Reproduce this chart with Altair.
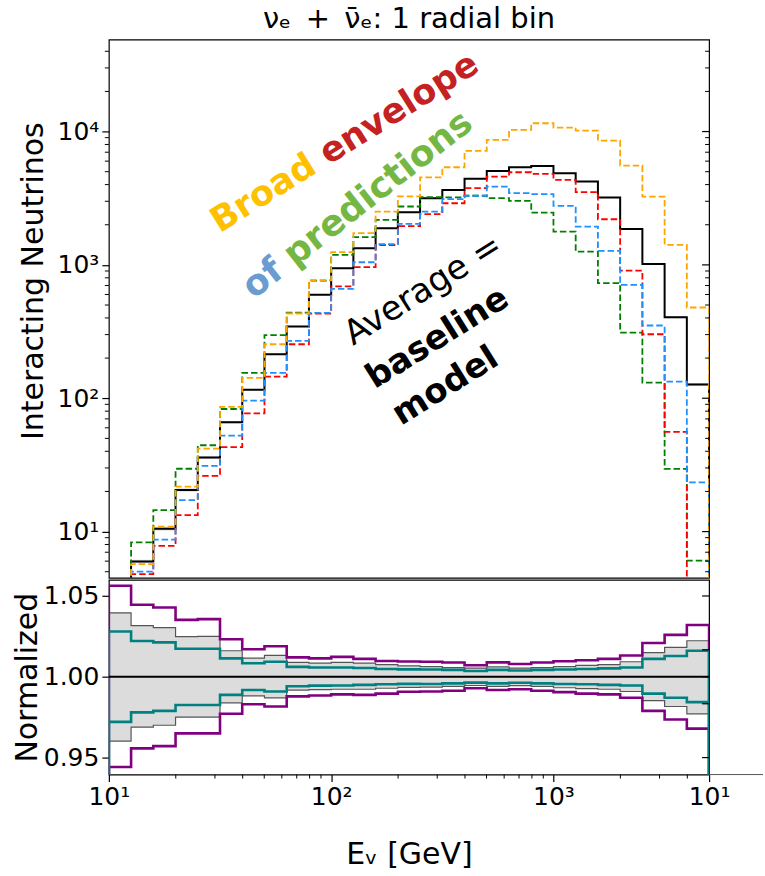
import altair as alt
import pandas as pd

# ---------------- data ----------------
EDGES = [10.0, 12.589, 15.849, 19.953, 25.119, 31.623, 39.811, 50.119, 63.096, 79.433,
         100.0, 125.89, 158.49, 199.53, 251.19, 316.23, 398.11, 501.19, 630.96, 794.33,
         1000.0, 1258.9, 1584.9, 1995.3, 2511.9, 3162.3, 3981.1, 5011.9]

AVG = [3.5, 5.97, 10.5, 20.5, 35.9, 66, 116, 214, 345, 598, 944, 1334, 1884, 2485,
       3162, 3650, 4420, 5070, 5400, 5520, 4870, 4217, 3199, 1862, 1017, 405, 127]
ORANGE = [3.3, 5.7, 10.9, 21.7, 41.9, 86, 142, 254, 432, 770, 1245, 1730, 2512, 3260,
          4540, 5400, 7160, 8650, 10280, 11540, 10700, 10170, 8560, 5560, 3254, 1413, 479]
GREEN = [4.2, 8.3, 14.5, 29.6, 44.4, 83, 155, 297, 438, 762, 1190, 1614, 2175, 2740,
         3215, 3213, 3300, 3162, 3020, 2470, 1778, 1259, 729, 311, 131, 29.5, 6.06]
BLUE = [2.9, 5.0, 8.7, 17.2, 31.1, 52.5, 96, 155, 269, 437, 660, 1047, 1430, 2030,
        2512, 3108, 3300, 3870, 3450, 3390, 2770, 1939, 1274, 708, 351, 133, 23.4]
RED = [2.6, 4.8, 7.8, 13.3, 26.2, 43, 77, 145, 254, 431, 690, 961, 1410, 1950,
       2400, 2900, 3760, 4590, 4950, 4810, 4340, 3508, 2200, 907, 302, 56, 2.0]

PURPLE_HI = [1.0563, 1.0446, 1.0429, 1.0352, 1.0357, 1.0232, 1.0170, 1.0189, 1.0120,
             1.0114, 1.0123, 1.0111, 1.0098, 1.0095, 1.0093, 1.0088, 1.0071, 1.0089,
             1.0079, 1.0088, 1.0096, 1.0102, 1.0111, 1.0132, 1.0209, 1.0259, 1.0320]
GRAY_HI = [1.0396, 1.0316, 1.0304, 1.0248, 1.0250, 1.0161, 1.0116, 1.0132, 1.0089,
           1.0084, 1.0089, 1.0084, 1.0075, 1.0068, 1.0063, 1.0057, 1.0054, 1.0061,
           1.0054, 1.0057, 1.0063, 1.0070, 1.0075, 1.0093, 1.0150, 1.0182, 1.0223]
TEAL_HI = [1.0280, 1.0221, 1.0213, 1.0173, 1.0173, 1.0114, 1.0084, 1.0093, 1.0061,
           1.0057, 1.0057, 1.0054, 1.0048, 1.0046, 1.0045, 1.0043, 1.0036, 1.0043,
           1.0039, 1.0043, 1.0045, 1.0048, 1.0052, 1.0057, 1.0111, 1.0129, 1.0161]
TEAL_LO = [0.9721, 0.9780, 0.9789, 0.9825, 0.9825, 0.9888, 0.9918, 0.9909, 0.9941,
           0.9945, 0.9946, 0.9950, 0.9954, 0.9956, 0.9955, 0.9959, 0.9964, 0.9959,
           0.9963, 0.9959, 0.9955, 0.9954, 0.9950, 0.9946, 0.9896, 0.9870, 0.9843]
GRAY_LO = [0.9602, 0.9688, 0.9700, 0.9750, 0.9750, 0.9839, 0.9882, 0.9870, 0.9918,
           0.9920, 0.9923, 0.9923, 0.9929, 0.9934, 0.9936, 0.9941, 0.9946, 0.9941,
           0.9945, 0.9941, 0.9932, 0.9927, 0.9923, 0.9909, 0.9852, 0.9816, 0.9771]
PURPLE_LO = [0.9442, 0.9557, 0.9571, 0.9650, 0.9650, 0.9771, 0.9830, 0.9816, 0.9879,
             0.9884, 0.9891, 0.9888, 0.9896, 0.9907, 0.9909, 0.9914, 0.9929, 0.9918,
             0.9923, 0.9914, 0.9905, 0.9896, 0.9891, 0.9870, 0.9789, 0.9736, 0.9679]

TOP_MAJOR = [10, 100, 1000, 10000]
TOP_MINOR_MULT = [2, 3, 4, 5, 6, 7, 8, 9]
TOP_MINOR_DEC = [1, 10, 100, 1000, 10000]
BOT_Y_MAJOR = [0.95, 1.00, 1.05]
BOT_Y_RIGHT = [0.95, 0.9833, 1.00, 1.0167, 1.05]
X_MAJOR = [10, 100, 1000, 5011.9]
X_MINOR_MULT = [2, 3, 4, 5, 6, 7, 8, 9]
X_MINOR_DEC = [10, 100, 1000]

# annotation text (positions in data coordinates)
ANN = [
    {"t": "Broad", "x": 87.0, "y": 6200, "c": "#FFC000", "w": "bold", "a": "right", "ang": 328, "dx": -6, "fs": 35},
    {"t": "envelope", "x": 87.0, "y": 6200, "c": "#C42222", "w": "bold", "a": "left", "ang": 328, "dx": 6, "fs": 35},
    {"t": "of", "x": 61.0, "y": 1040, "c": "#6A9BD1", "w": "bold", "a": "right", "ang": 322, "dx": -6, "fs": 36},
    {"t": "predictions", "x": 61.0, "y": 1040, "c": "#74B843", "w": "bold", "a": "left", "ang": 322, "dx": 6, "fs": 36},
    {"t": "Average =", "x": 260.0, "y": 646, "c": "#000000", "w": "normal", "a": "center", "ang": 328, "dx": 0, "fs": 34},
    {"t": "baseline", "x": 301.0, "y": 282, "c": "#000000", "w": "bold", "a": "center", "ang": 328, "dx": 0, "fs": 34},
    {"t": "model", "x": 327.0, "y": 123, "c": "#000000", "w": "bold", "a": "center", "ang": 328, "dx": 0, "fs": 34},
]

W, H1, H2 = 601, 539, 195
FONT = "DejaVu Sans"
FS = 25
FT = 30


def stair(vals, base):
    xs, ys = [EDGES[0]], [base]
    for k, v in enumerate(vals):
        xs += [EDGES[k], EDGES[k + 1]]
        ys += [v, v]
    xs.append(EDGES[-1])
    ys.append(base)
    return pd.DataFrame({"x": xs, "y": ys, "i": list(range(len(xs)))})


def steps_df(lo, hi):
    return pd.DataFrame({"x": EDGES, "lo": list(lo) + [lo[-1]], "hi": list(hi) + [hi[-1]]})


xscale = alt.Scale(type="log", domain=[10, 5011.9], nice=False)
yscale_top = alt.Scale(type="log", domain=[4.5, 49000], nice=False)
yscale_bot = alt.Scale(type="linear", domain=[0.9395, 1.0600], nice=False, zero=False)

top_yaxis = alt.Axis(
    values=TOP_MAJOR,
    labelExpr="datum.value < 50 ? '10¹' : datum.value < 500 ? '10²' : datum.value < 5000 ? '10³' : '10⁴'",
    tickSize=7, tickWidth=1.2, tickColor="black", labelFontSize=FS, labelFont=FONT,
    labelColor="black", labelPadding=3, grid=False, domain=False,
    title="Interacting Neutrinos", titleFont=FONT, titleFontSize=FT, titleFontWeight="normal",
    titleColor="black", titleX=-75, titleY=H1 / 2 - 28, titleAlign="center", titleBaseline="middle",
    titleAngle=270,
)
bot_yaxis = alt.Axis(
    values=BOT_Y_MAJOR, format=".2f",
    tickSize=7, tickWidth=1.2, tickColor="black", labelFontSize=FS, labelFont=FONT,
    labelColor="black", labelPadding=3, grid=False, domain=False,
    title="Normalized", titleFont=FONT, titleFontSize=FT, titleFontWeight="normal",
    titleColor="black", titleX=-81, titleY=H2 / 2, titleAlign="center", titleBaseline="middle",
    titleAngle=270,
)
bot_xaxis = alt.Axis(
    values=X_MAJOR,
    labelExpr="datum.value < 50 ? '10¹' : datum.value < 500 ? '10²' : datum.value < 4000 ? '10³' : '10¹'",
    tickSize=7, tickWidth=1.2, tickColor="black", labelFontSize=FS, labelFont=FONT,
    labelColor="black", labelPadding=3, grid=False, domain=False, labelFlush=False,
    title="Eᵥ [GeV]", titleFont=FONT, titleFontSize=FT, titleFontWeight="normal",
    titleColor="black", titlePadding=30,
)


def TX(f="x"):
    return alt.X(f"{f}:Q", scale=xscale, axis=None)


def TY(f="y"):
    return alt.Y(f"{f}:Q", scale=yscale_top, axis=top_yaxis)


def BX(f="x"):
    return alt.X(f"{f}:Q", scale=xscale, axis=bot_xaxis)


def BY(f="y"):
    return alt.Y(f"{f}:Q", scale=yscale_bot, axis=bot_yaxis)


# ---------------- top panel ----------------
top_layers = []
band_top = steps_df([a * g for a, g in zip(AVG, GRAY_LO)], [a * g for a, g in zip(AVG, GRAY_HI)])
top_layers.append(
    alt.Chart(band_top).mark_area(interpolate="step-after", color="#d4d4d4", clip=True)
    .encode(x=TX(), y=TY("lo"), y2="hi:Q")
)
top_layers.append(
    alt.Chart(stair(AVG, 0.5)).mark_line(color="black", strokeWidth=2.0, clip=True)
    .encode(x=TX(), y=TY(), order="i:Q")
)
for vals, col in [(GREEN, "#008000"), (RED, "#FF0000"), (BLUE, "#1E90FF"), (ORANGE, "#FFA500")]:
    top_layers.append(
        alt.Chart(stair(vals, 0.5)).mark_line(color=col, strokeWidth=1.8, strokeDash=[6.5, 3], clip=True)
        .encode(x=TX(), y=TY(), order="i:Q")
    )

minor_top = pd.DataFrame({"v": [m * d for d in TOP_MINOR_DEC for m in TOP_MINOR_MULT
                                if 4.5 < m * d < 49000]})
major_top = pd.DataFrame({"v": TOP_MAJOR})
top_layers.append(alt.Chart(minor_top).mark_rule(color="black", strokeWidth=1)
                  .encode(y=TY("v"), x=alt.value(-4), x2=alt.value(0)))
top_layers.append(alt.Chart(minor_top).mark_rule(color="black", strokeWidth=1)
                  .encode(y=TY("v"), x=alt.value(W - 4), x2=alt.value(W)))
top_layers.append(alt.Chart(major_top).mark_rule(color="black", strokeWidth=1.2)
                  .encode(y=TY("v"), x=alt.value(W - 7), x2=alt.value(W)))

for row in ANN:
    top_layers.append(
        alt.Chart(pd.DataFrame([row])).mark_text(
            angle=row["ang"], fontSize=row["fs"], font=FONT, fontWeight=row["w"], align=row["a"],
            baseline="middle", color=row["c"], dx=row["dx"],
        ).encode(x=TX(), y=TY(), text="t:N")
    )

top = alt.layer(*top_layers).properties(
    width=W, height=H1,
    title=alt.Title("νₑ\u2002+\u2002ν̄ₑ: 1 radial bin", font=FONT, fontSize=29, fontWeight="normal",
                    color="black", offset=6, anchor="middle", frame="group"),
)

# ---------------- bottom panel ----------------
bot_layers = []
bot_layers.append(
    alt.Chart(steps_df(GRAY_LO, GRAY_HI)).mark_area(interpolate="step-after", color="#dcdcdc", clip=True)
    .encode(x=BX(), y=BY("lo"), y2="hi:Q")
)
for vals in [GRAY_HI, GRAY_LO]:
    bot_layers.append(
        alt.Chart(stair(vals, 0.0)).mark_line(color="#555555", strokeWidth=1.2, clip=True)
        .encode(x=BX(), y=BY(), order="i:Q")
    )
for vals, col in [(PURPLE_HI, "#800080"), (PURPLE_LO, "#800080"), (TEAL_HI, "#008080"), (TEAL_LO, "#008080")]:
    bot_layers.append(
        alt.Chart(stair(vals, 0.0)).mark_line(color=col, strokeWidth=2.6, clip=True)
        .encode(x=BX(), y=BY(), order="i:Q")
    )
bot_layers.append(
    alt.Chart(pd.DataFrame({"y": [1.0]})).mark_rule(color="black", strokeWidth=2)
    .encode(y=BY(), x=alt.value(0), x2=alt.value(W))
)
right_bot = pd.DataFrame({"v": BOT_Y_RIGHT})
bot_layers.append(alt.Chart(right_bot).mark_rule(color="black", strokeWidth=1.2)
                  .encode(y=BY("v"), x=alt.value(W - 7), x2=alt.value(W)))
minor_x = pd.DataFrame({"v": [m * d for d in X_MINOR_DEC for m in X_MINOR_MULT if m * d < 4990]})
bot_layers.append(alt.Chart(minor_x).mark_rule(color="black", strokeWidth=1)
                  .encode(x=BX("v"), y=alt.value(H2), y2=alt.value(H2 + 4)))
bot_layers.append(alt.Chart(pd.DataFrame({"v": [1]})).mark_rule(color="#555555", strokeWidth=1)
                  .encode(x=alt.value(W), x2=alt.value(W + 54), y=alt.value(H2)))

bottom = alt.layer(*bot_layers).properties(width=W, height=H2)

chart = alt.vconcat(top, bottom, spacing=0).properties(
    padding={"left": 12, "top": 3, "right": 0, "bottom": 0},
    background="white",
).configure_view(stroke="black", strokeWidth=1.2)

chart.save("out.html", embed_options={"renderer": "svg", "actions": False})
